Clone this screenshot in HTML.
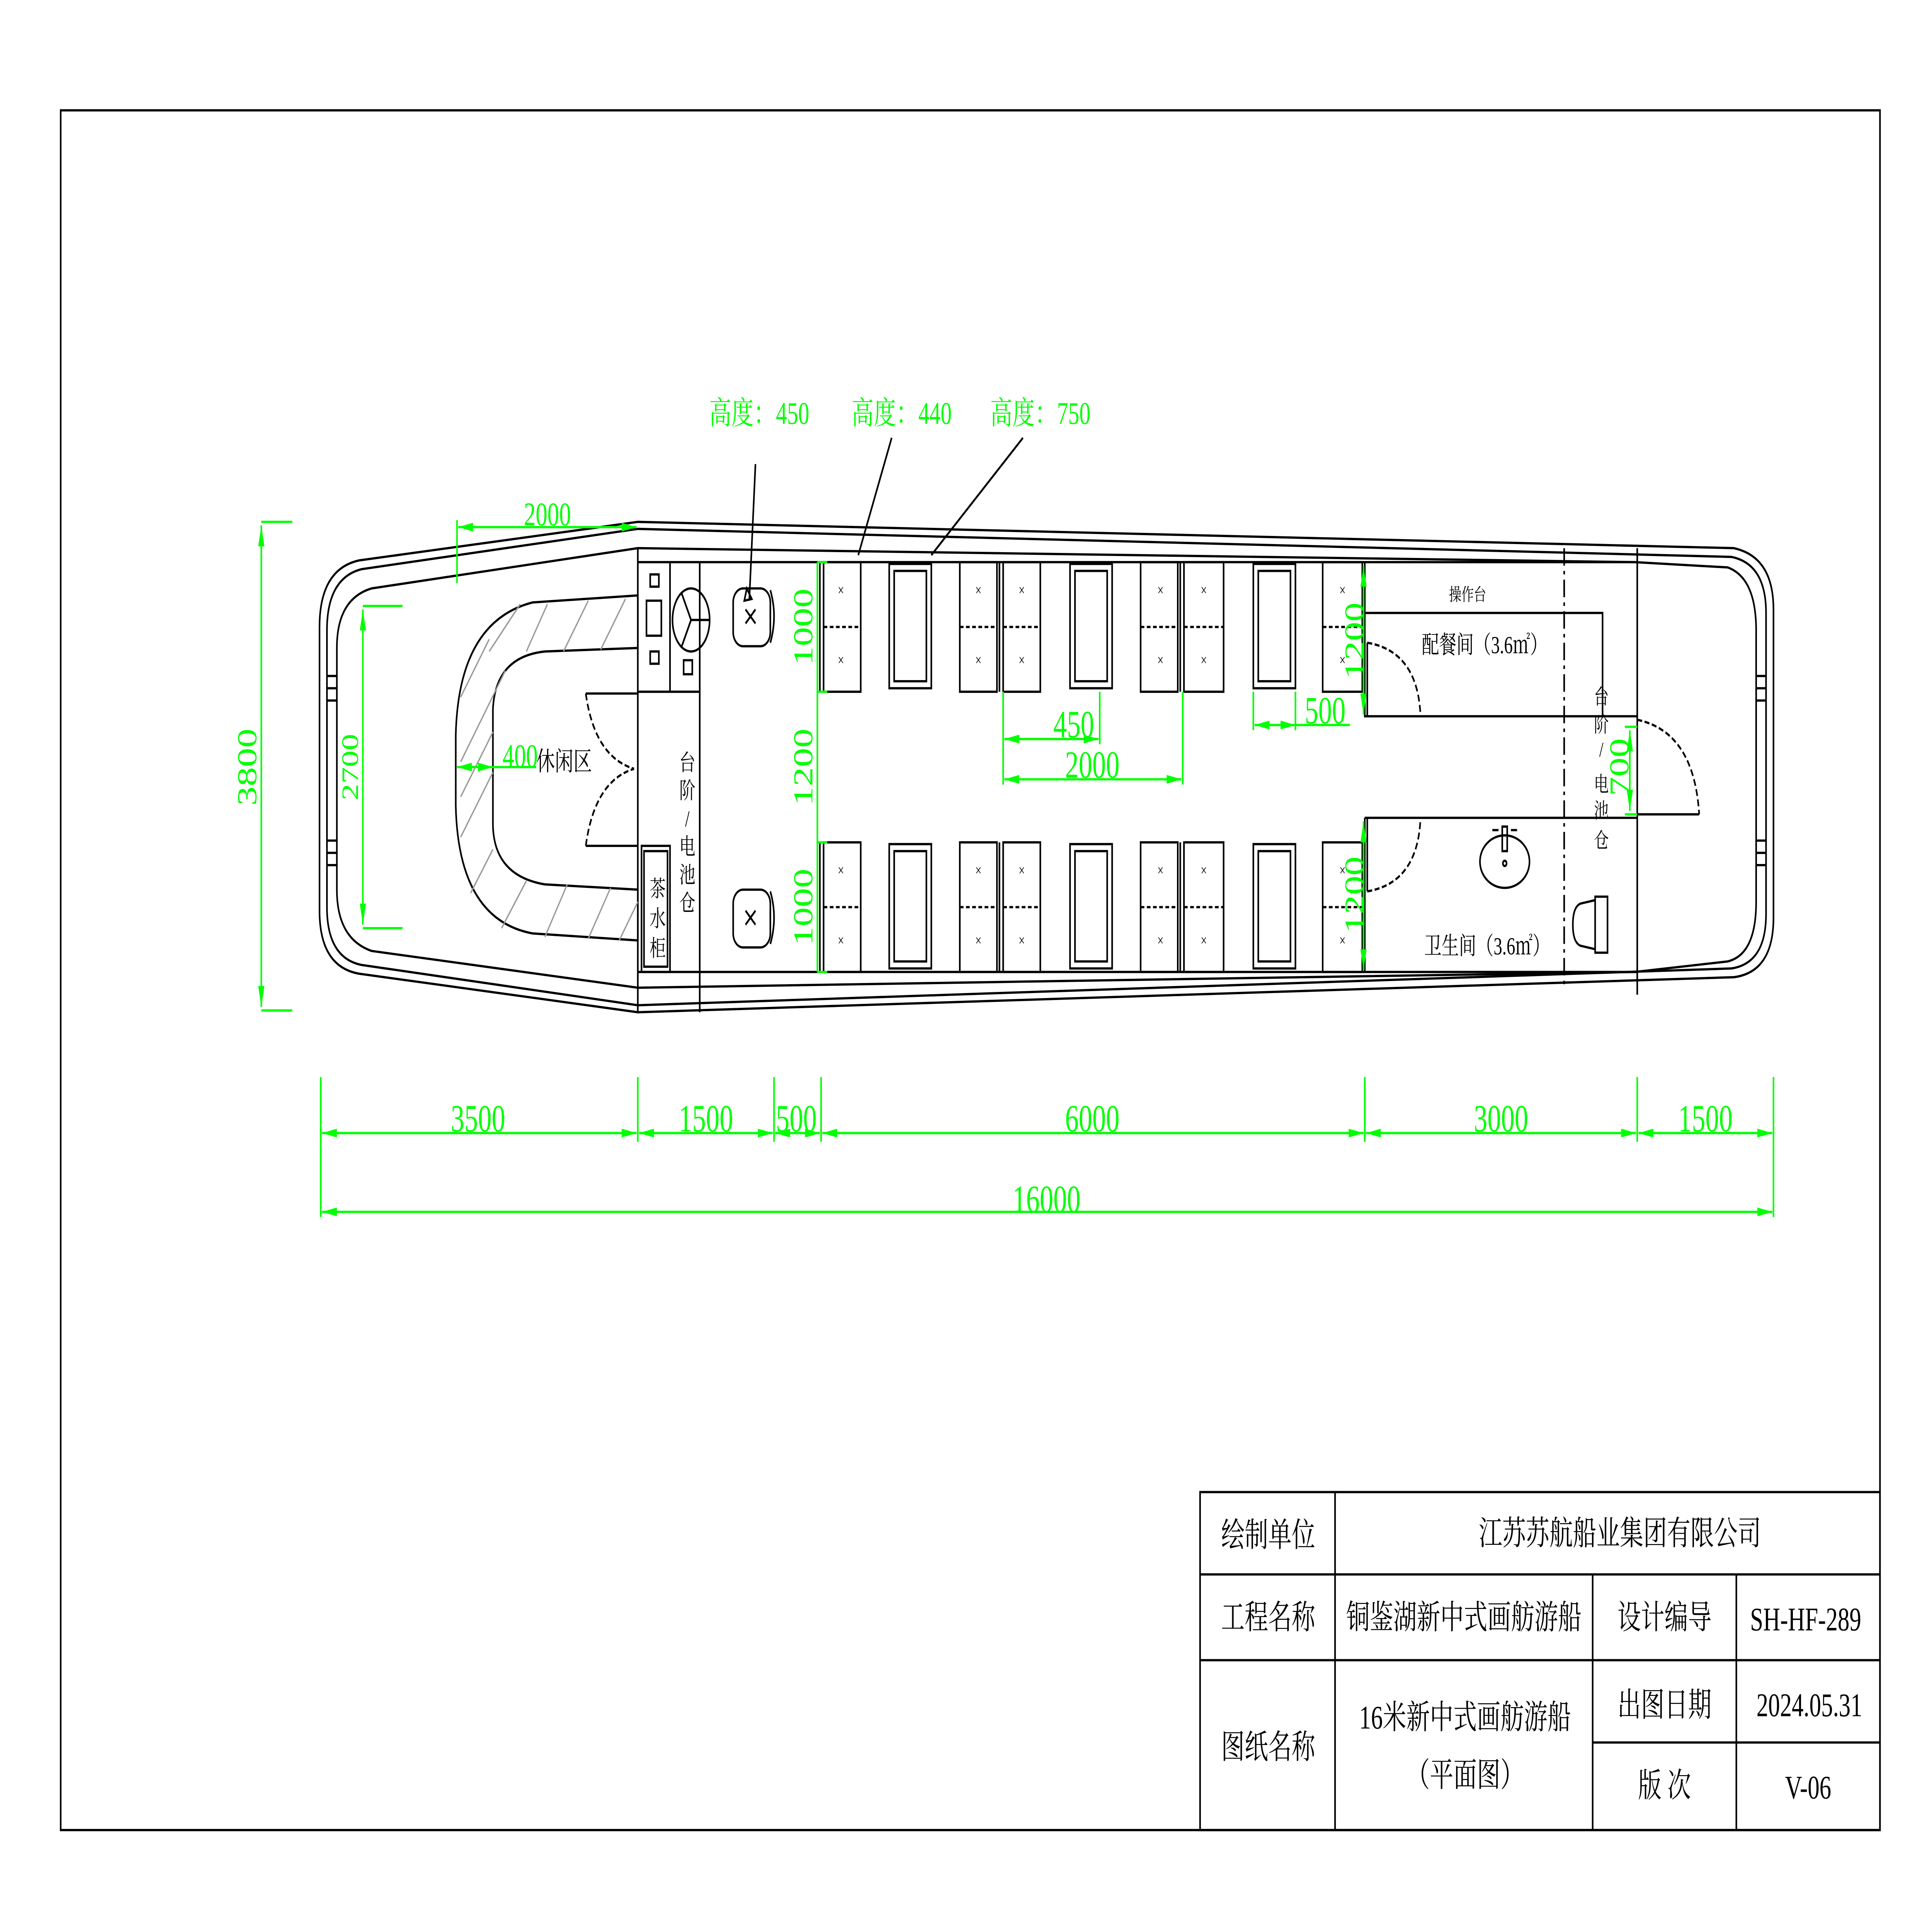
<!DOCTYPE html>
<html><head><meta charset="utf-8"><style>
html,body{margin:0;padding:0;background:#fff;width:100%;height:100%;overflow:hidden}
svg{display:block;width:100vw;height:100vh;position:fixed;left:0;top:0}
.k{fill:none;stroke:#000;stroke-width:1.3}
.g{fill:none;stroke:#00ff00;stroke-width:1.3}
.gt{fill:#00ff00;font-family:"Liberation Serif","Noto Serif CJK SC",serif;font-size:22px}
.t{fill:#000;font-family:"Liberation Serif","Noto Serif CJK SC",serif}
</style></head><body>
<svg viewBox="0 0 1560 1103.2" preserveAspectRatio="none" xmlns="http://www.w3.org/2000/svg">
<defs>
<marker id="a" viewBox="0 0 10 10" refX="10" refY="5" markerWidth="12" markerHeight="5" markerUnits="userSpaceOnUse" orient="auto-start-reverse" preserveAspectRatio="none"><path d="M0,0L10,5L0,10z" fill="#00ff00"/></marker>
</defs>
<rect x="0" y="0" width="1560" height="1103.2" fill="#fff"/>
<rect x="49" y="63" width="1469" height="982" class="k"/>

<path class="k" d="M515,298 L1400,313 Q1432,318 1432,348 L1432,524 Q1432,555 1400,558 L515,578 L290,556 Q258,552 258,520 L258,358 Q258,325 290,320 Z"/>
<path class="k" d="M515,302 L1398,318 Q1426,322 1426,350 L1426,522 Q1426,550 1398,553 L515,574 L292,551 Q264,547 264,518 L264,360 Q264,330 292,325 Z"/>
<path class="k" d="M515,313 L1320,321 L1395,324 Q1418,330 1418,360 L1418,515 Q1418,545 1395,549 L1320,555 L515,564 L300,543 Q272,536 272,508 L272,370 Q272,342 300,336 Z"/>
<line class="k" x1="515" y1="321" x2="1322" y2="321"/>
<line class="k" x1="515" y1="555" x2="1322" y2="555"/>
<line class="k" x1="515" y1="313" x2="515" y2="578"/>
<line class="k" x1="1322" y1="313" x2="1322" y2="568"/>
<line class="k" x1="1263" y1="313" x2="1263" y2="565" stroke-dasharray="10,3,2,3"/>
<path class="k" d="M264,386h8M264,393h8M264,400h8M264,480h8M264,487h8M264,494h8M1418,386h8M1418,393h8M1418,400h8M1418,480h8M1418,487h8M1418,494h8"/>

<path d="M515,340 L430,344 Q370,355 368,420 L368,460 Q370,525 430,533 L515,537 L515,508 L440,505 Q398,500 398,470 L398,405 Q400,375 440,372 L515,370 Z" fill="none" stroke="#000" stroke-width="1.3"/>
<g stroke="#999" stroke-width="1"><path d="M372,435L408,383M372,398L395,365M395,372L420,345M425,372L442,345M455,372L475,343M485,371L505,342M372,478L398,441M380,510L398,485M405,530L425,503M440,535L458,505M475,536L493,507M500,537L515,515M372,455L398,418"/></g>
<path class="k" d="M473,396 L515,396 M473,483 L515,483"/>
<path class="k" stroke-dasharray="4,2" d="M473,396 Q480,432 512,439 M473,483 Q480,446 512,439"/>
<line class="k" x1="541" y1="321" x2="541" y2="395"/>
<line class="k" x1="565" y1="321" x2="565" y2="578"/>
<line class="k" x1="515" y1="395" x2="565" y2="395"/>
<rect class="k" x="518" y="483" width="23" height="72"/>
<rect class="k" x="520" y="486" width="19" height="66"/>
<rect class="k" x="525" y="328" width="7" height="7"/><rect class="k" x="522" y="343" width="12" height="20"/><rect class="k" x="525" y="372" width="7" height="7"/>
<rect class="k" x="552" y="377" width="7" height="8"/>
<ellipse class="k" cx="558" cy="354" rx="15" ry="18"/>
<path class="k" d="M558,354L550,338M558,354L550,370M558,354L573,354"/>
<g class="k"><rect x="592" y="336" width="30" height="33" rx="8"/><path d="M602,348l8,8M610,348l-8,8"/><path d="M622,337q6,15 0,30"/>
<rect x="592" y="508" width="30" height="33" rx="8"/><path d="M602,520l8,8M610,520l-8,8"/><path d="M622,509q6,15 0,30"/></g>
<text class="t" font-size="13" x="555" y="440" text-anchor="middle">台</text>
<text class="t" font-size="13" x="555" y="456" text-anchor="middle">阶</text>
<text class="t" font-size="13" x="555" y="472" text-anchor="middle">/</text>
<text class="t" font-size="13" x="555" y="488" text-anchor="middle">电</text>
<text class="t" font-size="13" x="555" y="504" text-anchor="middle">池</text>
<text class="t" font-size="13" x="555" y="520" text-anchor="middle">仓</text>
<text class="t" font-size="13" x="531" y="512" text-anchor="middle">茶</text>
<text class="t" font-size="13" x="531" y="529" text-anchor="middle">水</text>
<text class="t" font-size="13" x="531" y="546" text-anchor="middle">柜</text>
<text class="t" font-size="15" x="433" y="440">休闲区</text>

<g class="k" id="row">
<rect x="665" y="321" width="30" height="74"/><line x1="662" y1="321" x2="662" y2="395"/><line x1="665" y1="358" x2="695" y2="358" stroke-dasharray="3,2"/>
<rect x="775" y="321" width="30" height="74"/><line x1="775" y1="358" x2="805" y2="358" stroke-dasharray="3,2"/>
<rect x="810" y="321" width="30" height="74"/><line x1="807" y1="321" x2="807" y2="395"/><line x1="810" y1="358" x2="840" y2="358" stroke-dasharray="3,2"/>
<rect x="921" y="321" width="30" height="74"/><line x1="921" y1="358" x2="951" y2="358" stroke-dasharray="3,2"/>
<rect x="956" y="321" width="32" height="74"/><line x1="953" y1="321" x2="953" y2="395"/><line x1="956" y1="358" x2="988" y2="358" stroke-dasharray="3,2"/>
<rect x="1068" y="321" width="32" height="74"/><line x1="1068" y1="358" x2="1100" y2="358" stroke-dasharray="3,2"/>
<rect x="718" y="322" width="34" height="71"/><rect x="722" y="326" width="26" height="63"/>
<rect x="864" y="322" width="34" height="71"/><rect x="868" y="326" width="26" height="63"/>
<rect x="1012" y="322" width="34" height="71"/><rect x="1016" y="326" width="26" height="63"/>
<g font-size="9" class="t" stroke="none" text-anchor="middle">
<text x="679" y="340">×</text><text x="679" y="380">×</text>
<text x="790" y="340">×</text><text x="790" y="380">×</text>
<text x="825" y="340">×</text><text x="825" y="380">×</text>
<text x="937" y="340">×</text><text x="937" y="380">×</text>
<text x="972" y="340">×</text><text x="972" y="380">×</text>
<text x="1084" y="340">×</text><text x="1084" y="380">×</text>
</g>
</g>
<use href="#row" transform="translate(0,160)"/>

<path class="k" d="M1102,321V409H1322M1102,350H1294V409M1102,467H1322M1102,467V555"/>
<path class="k" d="M1104,367V409"/>
<path class="k" stroke-dasharray="4,2" d="M1104,367Q1145,372 1147,409M1104,509Q1145,504 1147,467"/>
<path class="k" d="M1104,467V509"/>
<path class="k" d="M1322,465H1372"/>
<path class="k" stroke-dasharray="4,2" d="M1322,411Q1368,418 1372,465"/>
<ellipse class="k" cx="1215" cy="492" rx="20" ry="15"/>
<path class="k" d="M1213,472v14h4v-14zM1205,474h5M1220,474h5"/>
<circle cx="1215" cy="493" r="1.5" class="k"/>
<path class="k" d="M1288,514L1276,516Q1270,518 1270,528Q1270,538 1276,540L1288,542ZM1288,512h10v32h-10z"/>
<text class="t" font-size="10" x="1185" y="343" text-anchor="middle">操作台</text>
<text class="t" font-size="14" x="1148" y="373">配餐间（3.6㎡）</text>
<text class="t" font-size="14" x="1150" y="545">卫生间（3.6㎡）</text>
<g class="t" font-size="12" text-anchor="middle">
<text x="1293" y="402">台</text><text x="1293" y="418">阶</text><text x="1293" y="432">/</text><text x="1293" y="452">电</text><text x="1293" y="467">池</text><text x="1293" y="484">仓</text></g>

<g class="g">
<path d="M211,298h25M211,577h25"/><line x1="211" y1="300" x2="211" y2="575" marker-start="url(#a)" marker-end="url(#a)"/>
<path d="M293,346h32M293,530h32"/><line x1="293" y1="348" x2="293" y2="528" marker-start="url(#a)" marker-end="url(#a)"/>
<path d="M369,297V333"/><line x1="370" y1="301" x2="514" y2="301" marker-start="url(#a)" marker-end="url(#a)"/>
<line x1="369" y1="438" x2="398" y2="438" marker-start="url(#a)" marker-end="url(#a)"/><line x1="398" y1="438" x2="433" y2="438"/>
<path d="M660,321V555M660,321h8M660,395h8M660,481h8M660,555h8"/>
<path d="M810,395V448M888,395V425M955,395V448M1012,395V417M1046,395V417"/>
<line x1="811" y1="422" x2="887" y2="422" marker-start="url(#a)" marker-end="url(#a)"/>
<line x1="811" y1="445" x2="954" y2="445" marker-start="url(#a)" marker-end="url(#a)"/>
<line x1="1013" y1="414" x2="1046" y2="414" marker-start="url(#a)" marker-end="url(#a)"/><line x1="1046" y1="414" x2="1090" y2="414"/>
<line x1="1101" y1="323" x2="1101" y2="408" marker-start="url(#a)" marker-end="url(#a)"/>
<line x1="1101" y1="469" x2="1101" y2="554" marker-start="url(#a)" marker-end="url(#a)"/>
<path d="M1312,415h10M1312,465h10"/><line x1="1316" y1="417" x2="1316" y2="463" marker-start="url(#a)" marker-end="url(#a)"/>
<path d="M259,615V695M515,615V652M625,615V652M663,615V652M1102,615V652M1322,615V652M1432,615V695"/>
<line x1="260" y1="647" x2="514" y2="647" marker-start="url(#a)" marker-end="url(#a)"/>
<line x1="516" y1="647" x2="624" y2="647" marker-start="url(#a)" marker-end="url(#a)"/>
<line x1="626" y1="647" x2="662" y2="647" marker-start="url(#a)" marker-end="url(#a)"/>
<line x1="664" y1="647" x2="1101" y2="647" marker-start="url(#a)" marker-end="url(#a)"/>
<line x1="1103" y1="647" x2="1321" y2="647" marker-start="url(#a)" marker-end="url(#a)"/>
<line x1="1323" y1="647" x2="1431" y2="647" marker-start="url(#a)" marker-end="url(#a)"/>
<line x1="260" y1="692" x2="1431" y2="692" marker-start="url(#a)" marker-end="url(#a)"/>
</g>
<g class="gt">
<text x="211" y="438" text-anchor="middle" transform="rotate(-90 211 438)" dy="-4">3800</text>
<text x="293" y="438" text-anchor="middle" transform="rotate(-90 293 438)" dy="-4" font-size="19">2700</text>
<text x="442" y="300" text-anchor="middle" font-size="19">2000</text>
<text x="420" y="438" text-anchor="middle" font-size="19">400</text>
<text x="648" y="358" text-anchor="middle" transform="rotate(-90 648 358)" dy="8">1000</text>
<text x="648" y="438" text-anchor="middle" transform="rotate(-90 648 438)" dy="8">1200</text>
<text x="648" y="518" text-anchor="middle" transform="rotate(-90 648 518)" dy="8">1000</text>
<text x="867" y="421" text-anchor="middle">450</text>
<text x="882" y="444" text-anchor="middle">2000</text>
<text x="1070" y="413" text-anchor="middle">500</text>
<text x="1093" y="366" text-anchor="middle" transform="rotate(-90 1093 366)" dy="8">1200</text>
<text x="1093" y="511" text-anchor="middle" transform="rotate(-90 1093 511)" dy="8">1200</text>
<text x="1307" y="438" text-anchor="middle" transform="rotate(-90 1307 438)" dy="8">700</text>
<text x="386" y="647" text-anchor="middle" dy="-1">3500</text>
<text x="570" y="647" text-anchor="middle" dy="-1">1500</text>
<text x="643" y="647" text-anchor="middle" dy="-1">500</text>
<text x="882" y="647" text-anchor="middle" dy="-1">6000</text>
<text x="1212" y="647" text-anchor="middle" dy="-1">3000</text>
<text x="1377" y="647" text-anchor="middle" dy="-1">1500</text>
<text x="845" y="693" text-anchor="middle" dy="-1">16000</text>
<text x="613" y="242" text-anchor="middle" font-size="18">高度：450</text>
<text x="728" y="242" text-anchor="middle" font-size="18">高度：440</text>
<text x="840" y="242" text-anchor="middle" font-size="18">高度：750</text>
</g>
<path class="k" d="M610,265L605,343M720,250L693,317M826,250L752,317"/>
<path class="k" d="M603,336l4,6l-6,1z"/>

<g class="k">
<rect x="969" y="852" width="549" height="193"/>
<path d="M969,899H1518M969,948H1518M1078,852V1045M1286,899V1045M1402,899V1045M1286,995H1518"/>
</g>
<g class="t" font-size="19" text-anchor="middle">
<text x="1024" y="883">绘制单位</text>
<text x="1308" y="882">江苏苏航船业集团有限公司</text>
<text x="1024" y="930">工程名称</text>
<text x="1182" y="930">铜鉴湖新中式画舫游船</text>
<text x="1344" y="930">设计编导</text>
<text x="1458" y="931">SH-HF-289</text>
<text x="1024" y="1004">图纸名称</text>
<text x="1183" y="987">16米新中式画舫游船</text>
<text x="1183" y="1020">（平面图）</text>
<text x="1344" y="980">出图日期</text>
<text x="1461" y="980">2024.05.31</text>
<text x="1344" y="1026">版 次</text>
<text x="1460" y="1027">V-06</text>
</g>
</svg>
</body></html>
